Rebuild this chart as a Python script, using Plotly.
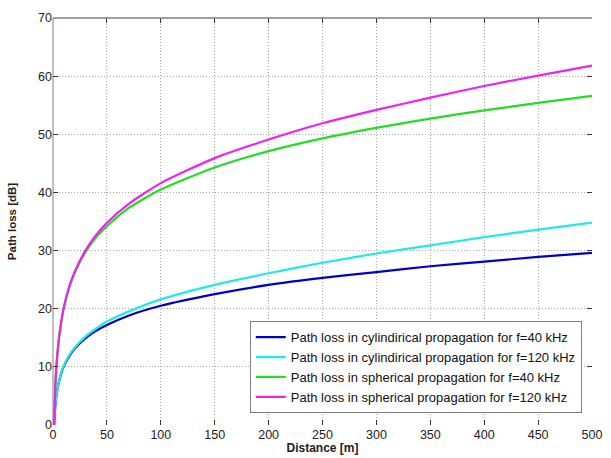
import plotly.graph_objects as go

distance = [1, 2, 3, 5, 7, 10, 15, 20, 30, 40, 50, 70, 100, 150, 200, 250, 300, 350, 400, 450, 500]

cyl_40 = [0.0, 3.0, 4.8, 7.0, 8.5, 10.1, 11.8, 13.1, 14.9, 16.2, 17.2, 18.8, 20.5, 22.5, 24.1, 25.3, 26.3, 27.3, 28.1, 28.9, 29.6]
cyl_120 = [0.0, 3.0, 4.8, 7.1, 8.6, 10.2, 12.0, 13.3, 15.2, 16.6, 17.8, 19.5, 21.6, 24.1, 26.1, 27.9, 29.5, 30.9, 32.3, 33.6, 34.8]
sph_40 = [0.0, 6.0, 9.6, 14.0, 16.9, 20.1, 23.6, 26.1, 29.7, 32.3, 34.2, 37.3, 40.5, 44.3, 47.1, 49.3, 51.1, 52.7, 54.1, 55.4, 56.6]
sph_120 = [0.0, 6.0, 9.6, 14.1, 17.0, 20.2, 23.8, 26.3, 30.0, 32.7, 34.8, 38.0, 41.6, 45.9, 49.1, 51.9, 54.2, 56.3, 58.3, 60.1, 61.8]

names = [
    "Path loss in cylindirical propagation for f=40 kHz",
    "Path loss in cylindirical propagation for f=120 kHz",
    "Path loss in spherical propagation for f=40 kHz",
    "Path loss in spherical propagation for f=120 kHz",
]
series = [cyl_40, cyl_120, sph_40, sph_120]
colors = ["#0000C8", "#22E8E8", "#22DD22", "#EE22EE"]

fig = go.Figure()
for name, ys, c in zip(names, series, colors):
    fig.add_trace(go.Scatter(
        x=distance, y=ys, mode="lines", name=name,
        line=dict(color=c, width=2.2, shape="spline", smoothing=0.6),
    ))

font_family = "Liberation Sans, Arial, sans-serif"
axis_common = dict(
    showgrid=True, gridcolor="#a8a8a8", griddash="1px,2px", gridwidth=1,
    zeroline=False, showline=False, mirror="ticks", automargin=False,
    ticks="inside", ticklen=5, tickcolor="#333333", tickwidth=1,
    tickfont=dict(family=font_family, size=12.5, color="#222222"),
)

fig.update_layout(
    width=611, height=458,
    margin=dict(l=53, r=19, t=18, b=33),
    paper_bgcolor="white", plot_bgcolor="white",
    font=dict(family=font_family, color="#222222"),
    xaxis=dict(
        range=[0, 500], dtick=50, tick0=0,
        title=dict(text="<b>Distance [m]</b>", font=dict(size=12, family=font_family), standoff=0),
        **axis_common,
    ),
    yaxis=dict(
        range=[0, 70], dtick=10, tick0=0,
        title=dict(text="<b>Path loss [dB]</b>", font=dict(size=11.5, family=font_family), standoff=19),
        **axis_common,
    ),
    legend=dict(
        x=0.981, y=0.255, xanchor="right", yanchor="top",
        bgcolor="white", bordercolor="#808080", borderwidth=1,
        font=dict(family=font_family, size=13, color="#111111"),
        tracegroupgap=0, itemwidth=30,
    ),
    showlegend=True,
)

# visible left and top frame lines
fig.add_shape(type="line", xref="paper", yref="paper", x0=0, x1=0, y0=0, y1=1,
              line=dict(color="#808080", width=1))
fig.add_shape(type="line", xref="paper", yref="paper", x0=0, x1=1, y0=1, y1=1,
              line=dict(color="#808080", width=1.5))

fig.write_html(
    "out.html",
    config={"displayModeBar": False},
    post_script="document.body.style.margin='0';document.body.style.padding='0';",
)
